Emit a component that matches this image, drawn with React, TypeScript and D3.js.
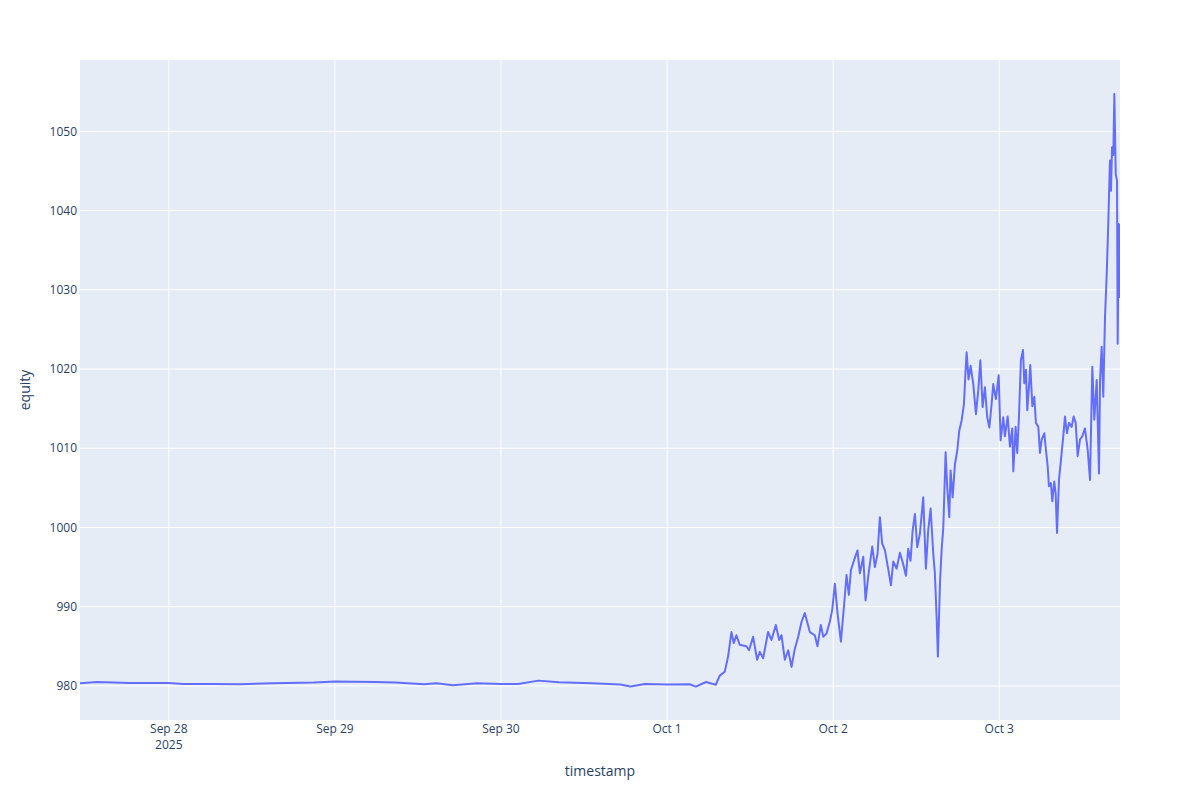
import React from 'react';
import * as d3 from 'd3';

// equity curve
const timestamps = [
  '2025-09-27T11:10', '2025-09-27T13:40', '2025-09-27T18:23', '2025-09-28T00:00', '2025-09-28T02:04',
  '2025-09-28T06:12', '2025-09-28T10:20', '2025-09-28T15:03', '2025-09-28T20:57', '2025-09-29T00:00',
  '2025-09-29T05:49', '2025-09-29T08:46', '2025-09-29T12:54', '2025-09-29T14:40', '2025-09-29T17:02',
  '2025-09-29T20:34', '2025-09-30T00:00', '2025-09-30T02:28', '2025-09-30T05:25', '2025-09-30T08:23',
  '2025-09-30T13:06', '2025-09-30T17:14', '2025-09-30T18:43', '2025-09-30T20:47', '2025-10-01T00:00',
  '2025-10-01T03:17', '2025-10-01T04:09', '2025-10-01T05:38', '2025-10-01T07:02', '2025-10-01T07:37',
  '2025-10-01T08:20', '2025-10-01T08:49', '2025-10-01T09:18', '2025-10-01T09:38', '2025-10-01T10:01',
  '2025-10-01T10:30', '2025-10-01T11:28', '2025-10-01T11:51', '2025-10-01T12:26', '2025-10-01T13:01',
  '2025-10-01T13:24', '2025-10-01T13:53', '2025-10-01T14:36', '2025-10-01T15:05', '2025-10-01T15:43',
  '2025-10-01T16:12', '2025-10-01T16:32', '2025-10-01T17:01', '2025-10-01T17:30', '2025-10-01T17:59',
  '2025-10-01T18:28', '2025-10-01T18:57', '2025-10-01T19:26', '2025-10-01T19:54', '2025-10-01T20:38',
  '2025-10-01T21:21', '2025-10-01T21:44', '2025-10-01T22:13', '2025-10-01T22:34', '2025-10-01T23:02',
  '2025-10-01T23:31', '2025-10-01T23:52', '2025-10-02T00:15', '2025-10-02T00:38', '2025-10-02T01:07',
  '2025-10-02T01:36', '2025-10-02T01:56', '2025-10-02T02:16', '2025-10-02T02:34', '2025-10-02T03:02',
  '2025-10-02T03:31', '2025-10-02T03:52', '2025-10-02T04:21', '2025-10-02T04:41', '2025-10-02T05:04',
  '2025-10-02T05:39', '2025-10-02T06:02', '2025-10-02T06:25', '2025-10-02T06:45', '2025-10-02T07:05',
  '2025-10-02T07:29', '2025-10-02T07:57', '2025-10-02T08:21', '2025-10-02T08:41', '2025-10-02T09:10',
  '2025-10-02T09:39', '2025-10-02T10:07', '2025-10-02T10:31', '2025-10-02T10:51', '2025-10-02T11:11',
  '2025-10-02T11:29', '2025-10-02T11:49', '2025-10-02T12:09', '2025-10-02T12:32', '2025-10-02T13:01',
  '2025-10-02T13:24', '2025-10-02T13:44', '2025-10-02T14:05', '2025-10-02T14:28', '2025-10-02T14:42',
  '2025-10-02T14:57', '2025-10-02T15:08', '2025-10-02T15:26', '2025-10-02T15:40', '2025-10-02T15:55',
  '2025-10-02T16:15', '2025-10-02T16:29', '2025-10-02T16:47', '2025-10-02T16:58', '2025-10-02T17:16',
  '2025-10-02T17:36', '2025-10-02T17:56', '2025-10-02T18:13', '2025-10-02T18:34', '2025-10-02T18:54',
  '2025-10-02T19:05', '2025-10-02T19:17', '2025-10-02T19:34', '2025-10-02T19:52', '2025-10-02T20:15',
  '2025-10-02T20:38', '2025-10-02T20:58', '2025-10-02T21:16', '2025-10-02T21:36', '2025-10-02T21:56',
  '2025-10-02T22:16', '2025-10-02T22:34', '2025-10-02T22:54', '2025-10-02T23:08', '2025-10-02T23:31',
  '2025-10-02T23:55', '2025-10-03T00:12', '2025-10-03T00:35', '2025-10-03T00:49', '2025-10-03T01:13',
  '2025-10-03T01:33', '2025-10-03T01:53', '2025-10-03T02:02', '2025-10-03T02:22', '2025-10-03T02:36',
  '2025-10-03T02:51', '2025-10-03T03:08', '2025-10-03T03:26', '2025-10-03T03:37', '2025-10-03T03:52',
  '2025-10-03T04:03', '2025-10-03T04:18', '2025-10-03T04:29', '2025-10-03T04:47', '2025-10-03T05:04',
  '2025-10-03T05:18', '2025-10-03T05:39', '2025-10-03T05:53', '2025-10-03T06:08', '2025-10-03T06:31',
  '2025-10-03T06:42', '2025-10-03T07:00', '2025-10-03T07:11', '2025-10-03T07:28', '2025-10-03T07:40',
  '2025-10-03T07:57', '2025-10-03T08:09', '2025-10-03T08:21', '2025-10-03T08:38', '2025-10-03T08:55',
  '2025-10-03T09:15', '2025-10-03T09:30', '2025-10-03T09:47', '2025-10-03T10:05', '2025-10-03T10:28',
  '2025-10-03T10:45', '2025-10-03T11:03', '2025-10-03T11:20', '2025-10-03T11:40', '2025-10-03T12:00',
  '2025-10-03T12:23', '2025-10-03T12:47', '2025-10-03T13:07', '2025-10-03T13:27', '2025-10-03T13:44',
  '2025-10-03T14:05', '2025-10-03T14:25', '2025-10-03T14:34', '2025-10-03T14:48', '2025-10-03T15:02',
  '2025-10-03T15:17', '2025-10-03T15:32', '2025-10-03T15:46', '2025-10-03T16:00', '2025-10-03T16:09',
  '2025-10-03T16:18', '2025-10-03T16:29', '2025-10-03T16:38', '2025-10-03T16:50', '2025-10-03T17:01',
  '2025-10-03T17:07', '2025-10-03T17:16', '2025-10-03T17:21', '2025-10-03T17:27',
];

const equity = [
  980.34, 980.50, 980.38, 980.38, 980.25,
  980.25, 980.21, 980.34, 980.42, 980.55,
  980.50, 980.42, 980.21, 980.34, 980.08,
  980.34, 980.25, 980.25, 980.67, 980.46,
  980.34, 980.17, 979.92, 980.25, 980.17,
  980.21, 979.92, 980.50, 980.15, 981.3,
  981.8, 983.7, 986.8, 985.4, 986.4,
  985.2, 985.0, 984.5, 986.2, 983.3,
  984.3, 983.5, 986.8, 985.8, 987.7,
  985.8, 986.4, 983.3, 984.5, 982.4,
  984.7, 986.2, 988.1, 989.2, 986.8,
  986.4, 985.0, 987.7, 986.2, 986.6,
  988.1, 989.6, 992.9, 989.2, 985.6,
  990.4, 994.0, 991.5, 994.6, 995.9,
  997.1, 994.2, 996.3, 990.8, 993.8,
  997.6, 995.0, 996.7, 1001.3, 998.0,
  997.1, 994.8, 992.7, 995.7, 994.8,
  996.8, 995.4, 993.9, 997.3, 995.8,
  999.6, 1001.7, 997.5, 999.2, 1003.8,
  994.8, 999.6, 1002.4, 996.7, 994.2,
  988.7, 983.7, 992.9, 997.1, 1000.0,
  1009.5, 1005.1, 1001.3, 1007.2, 1003.8,
  1008.0, 1009.7, 1012.2, 1013.5, 1015.6,
  1018.9, 1022.1, 1018.7, 1020.4, 1018.1,
  1014.3, 1017.3, 1021.1, 1015.2, 1017.7,
  1013.9, 1012.6, 1015.6, 1018.1, 1016.2,
  1019.2, 1011.0, 1013.9, 1011.5, 1014.0,
  1010.2, 1012.5, 1007.1, 1012.7, 1009.4,
  1014.0, 1021.1, 1022.4, 1018.2, 1019.9,
  1014.8, 1017.8, 1020.5, 1015.3, 1016.5,
  1013.2, 1012.7, 1009.4, 1011.1, 1011.9,
  1010.2, 1007.7, 1005.2, 1005.6, 1003.3,
  1005.8, 1004.3, 999.3, 1006.0, 1008.5,
  1011.5, 1014.0, 1011.9, 1013.2, 1012.7,
  1014.0, 1013.2, 1009.0, 1011.1, 1011.5,
  1012.5, 1009.8, 1006.0, 1020.3, 1013.6,
  1018.6, 1006.8, 1018.6, 1022.8, 1016.5,
  1026.6, 1032.0, 1038.7, 1046.3, 1042.5,
  1048.0, 1047.0, 1054.7, 1044.6, 1043.8,
  1023.2, 1038.3, 1029.1, 1038.3,
];

const yTicks = [980, 990, 1000, 1010, 1020, 1030, 1040, 1050];
const yRange = [975.7, 1059.0];
const xTickDays = ['2025-09-28', '2025-09-29', '2025-09-30', '2025-10-01', '2025-10-02', '2025-10-03'];

const W = 1200;
const H = 800;
const margin = { top: 60, right: 80, bottom: 80, left: 80 };
const font = '"Open Sans", verdana, arial, sans-serif';
const textColor = '#2a3f5f';

const parseTime = d3.timeParse('%Y-%m-%dT%H:%M');
const parseDay = d3.timeParse('%Y-%m-%d');
const fmtDay = d3.timeFormat('%b %-d');

export default function App() {
  const points = timestamps.map((t, i) => ({ t: parseTime(t) as Date, v: equity[i] }));

  const x = d3.scaleTime()
    .domain(d3.extent(points, d => d.t) as [Date, Date])
    .range([margin.left, W - margin.right]);

  const y = d3.scaleLinear()
    .domain(yRange)
    .range([H - margin.bottom, margin.top]);

  const line = d3.line<{ t: Date; v: number }>()
    .x(d => x(d.t))
    .y(d => y(d.v));

  const days = xTickDays.map(d => parseDay(d) as Date);

  return (
    <svg width={W} height={H} style={{ position: 'absolute', left: 0, top: 0, background: '#fff' }}>
      <defs>
        <clipPath id="plot-clip">
          <rect x={margin.left} y={margin.top} width={W - margin.left - margin.right} height={H - margin.top - margin.bottom} />
        </clipPath>
      </defs>

      <rect x={margin.left} y={margin.top} width={W - margin.left - margin.right} height={H - margin.top - margin.bottom} fill="#E5ECF6" />

      {/* grid */}
      {days.map((d, i) => (
        <line key={'gx' + i} x1={x(d)} x2={x(d)} y1={margin.top} y2={H - margin.bottom} stroke="#fff" strokeWidth={1} />
      ))}
      {yTicks.map(v => (
        <line key={'gy' + v} x1={margin.left} x2={W - margin.right} y1={y(v)} y2={y(v)} stroke="#fff" strokeWidth={1} />
      ))}

      <path
        d={line(points) || ''}
        fill="none"
        stroke="#636efa"
        strokeWidth={2}
        strokeLinejoin="round"
        clipPath="url(#plot-clip)"
      />

      {/* x tick labels */}
      {days.map((d, i) => (
        <text key={'tx' + i} x={x(d)} y={733} textAnchor="middle" fontFamily={font} fontSize={12} fill={textColor}>
          {fmtDay(d)}
          {i === 0 && <tspan x={x(d)} dy={16}>{d3.timeFormat('%Y')(d)}</tspan>}
        </text>
      ))}

      {/* y tick labels */}
      {yTicks.map(v => (
        <text key={'ty' + v} x={77} y={y(v)} dy="0.35em" textAnchor="end" fontFamily={font} fontSize={12} fill={textColor}>
          {v}
        </text>
      ))}

      <text x={(margin.left + W - margin.right) / 2} y={776} textAnchor="middle" fontFamily={font} fontSize={14} fill={textColor}>
        timestamp
      </text>
      <text
        transform={`translate(30,${(margin.top + H - margin.bottom) / 2}) rotate(-90)`}
        textAnchor="middle"
        fontFamily={font}
        fontSize={14}
        fill={textColor}
      >
        equity
      </text>
    </svg>
  );
}
